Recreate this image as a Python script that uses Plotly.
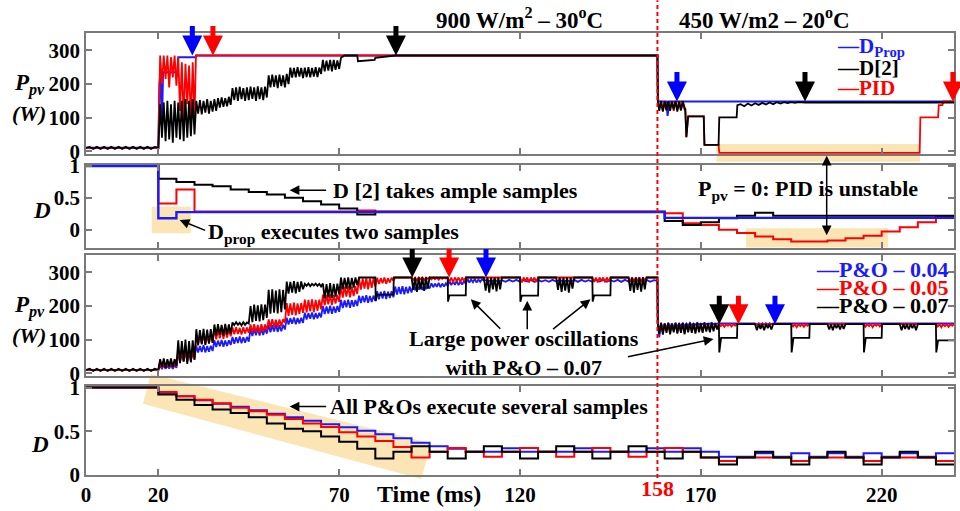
import plotly.graph_objects as go

# ======================= DATA =======================
X_TICKS = [0, 20, 70, 120, 170, 220]
Y_TICKS_P = [0, 100, 200, 300]
Y_TICKS_D = [0, 0.5, 1]
DISTURBANCE_T = 158

# ---- Panel 1 : PV power, D_Prop / D[2] / PID ----
P1_START_RIPPLE = [10, 13, 7, 13, 7, 13, 7, 13, 7, 13, 7, 13, 7, 13, 7, 13, 7, 13, 7, 13, 10]      # t=0..20, 1 ms
P1_BLACK_OSC_A = [140, 40, 145, 30, 150, 35, 140, 25, 150, 40, 145, 35, 150, 30, 155, 40, 150, 45, 155, 50,
                  150, 112, 152, 110, 150, 115, 155, 112, 150, 118, 155, 120,
                  158, 130, 160, 132, 158, 134, 162, 138,
                  188, 152, 190, 150, 192, 155, 188, 150, 190, 152, 192, 156, 190, 150, 193, 155, 190, 152, 192, 160,
                  226, 190, 228, 192, 226, 188, 228, 194, 226, 190, 230, 200,
                  249, 219, 248, 220, 250, 222, 248, 218, 249, 221, 250, 220, 248, 222, 250, 221, 249, 230,
                  272, 238, 270, 240, 272, 238, 272, 242, 270, 245, 278]                            # t=20.5..70.5
P1_BLACK_STEPS = [(71.5, 285), (75, 285), (75.2, 268), (77.5, 270), (79.8, 272), (80, 278), (83, 281),
                  (85.5, 285), (158, 285), (158.1, 150)]
P1_BLACK_OSC_B = [120, 150, 118, 148, 122, 150, 120, 148, 125, 150, 118, 148, 122, 150, 125]          # t=158.5..165.5
P1_BLACK_DIPS = [(165.7, 125), (166, 42), (166.5, 104), (170.8, 104), (171, 19), (174.9, 19),
                 (175.1, 101), (179.9, 101), (180.1, 137)]
P1_BLACK_RIPPLE_B = [140, 134, 142, 136, 143, 138, 144, 139, 145, 140, 146, 142, 146, 143, 146, 144, 146, 145]  # t=181..198
P1_BLACK_END = [(198.8, 145), (240, 145)]

P1_RED_START = [(0, 10), (20, 10)]
P1_RED_OSC_A = [285, 200, 285, 215, 285, 190, 280, 220, 285, 195, 280, 120, 265, 90, 260, 140, 255, 80, 265, 100]  # t=20.5..30
P1_RED_STEPS = [(30.4, 285), (158, 285), (158.1, 150)]
P1_RED_OSC_B = [125, 148, 120, 150, 122, 148, 126, 150, 120, 148, 124, 150, 122, 148, 125]            # t=158.5..165.5
P1_RED_TAIL = [(165.7, 125), (166, 42), (166.5, 104), (170.8, 104), (171, 19), (174.9, 19), (175.1, -5),
               (230.5, -5), (230.7, 101), (235.6, 101), (235.8, 137), (236.8, 137), (237, 148), (240, 148)]

P1_BLUE = [(0, 10), (20, 10), (20.3, 200), (20.6, 235), (21.0, 80), (21.3, 235), (25.3, 235), (25.5, 280),
           (30.3, 280), (30.5, 285), (158, 285), (158.2, 148), (160.5, 148), (160.8, 105), (161.3, 148), (240, 148)]

# ---- Panel 2 : duty cycle, D_Prop / D[2] / PID ----
P2_BLACK_T = [0, 20, 25, 30, 35, 40, 45, 50, 55, 60, 65, 70, 75, 80, 160, 165, 170, 175, 180, 185, 190, 240]
P2_BLACK_D = [1, 0.80, 0.75, 0.708, 0.682, 0.63, 0.594, 0.552, 0.50, 0.448, 0.396, 0.334, 0.24, 0.282,
              0.136, 0.074, 0.115, 0.178, 0.22, 0.267, 0.22, 0.22]
P2_RED_T = [0, 20, 25, 30, 75, 80, 160, 165, 170, 175, 180, 185, 190, 195, 200, 205, 210, 215, 220, 225, 230, 235, 240]
P2_RED_D = [1, 0.412, 0.63, 0.285, 0.30, 0.285, 0.256, 0.10, 0.074, -0.003, -0.055, -0.107, -0.15, -0.186,
            -0.186, -0.17, -0.134, -0.098, -0.03, 0.037, 0.115, 0.204, 0.204]
P2_BLUE_T = [0, 20, 25, 160, 240]
P2_BLUE_D = [1, 0.178, 0.275, 0.185, 0.185]

# ---- Panel 3 : PV power, P&O 0.04 / 0.05 / 0.07 ----
P3_START_RIPPLE = [10, 13, 7, 13, 7, 13, 7, 13, 7, 13, 7, 13, 7, 13, 7, 13, 7, 13, 7, 13, 10]      # t=0..20
P3_BLACK_OSC_A = [42, 18, 44, 16, 42, 20, 44, 18, 42, 22,
                  98, 30, 96, 34, 100, 28, 96, 32, 98, 40,
                  131, 83, 128, 86, 132, 84, 130, 88, 131, 90,
                  145, 113, 146, 115, 144, 112, 147, 116, 145, 118,
                  151, 143, 152, 144, 150, 142, 152, 144, 151, 148,
                  200, 152, 204, 156, 202, 154, 205, 158, 204, 165,
                  248, 177, 250, 180, 246, 178, 250, 182, 248, 190,
                  273, 237, 272, 240, 274, 238, 272, 242, 273, 250,
                  266, 260, 267, 259, 266, 261, 267, 260, 266, 258,
                  267, 223, 265, 226, 268, 224, 266, 228, 267, 235,
                  285, 250, 284, 252, 285, 250, 284, 255, 285, 262]                                # t=20.5..75
P3_BLACK_MID = [(75.5, 285), (80, 285), (80.1, 215), (80.5, 234), (85, 234), (85.1, 285), (90, 285)]
P3_BLACK_COMB1 = [248, 285, 242, 285, 250, 285, 245, 285, 252, 285]   # t=90.5..95
P3_BLACK_DIP1 = [(100, 285), (100.1, 213), (100.5, 232), (105, 232), (105.1, 285), (110, 285)]
P3_BLACK_COMB2 = [246, 285, 240, 285, 250, 285, 244, 285, 250, 285]   # t=110.5..115
P3_BLACK_DIP2 = [(120, 285), (120.1, 213), (120.5, 231), (125, 231), (125.1, 285), (130, 285)]
P3_BLACK_COMB3 = [248, 285, 242, 285, 246, 285, 240, 285, 252, 285]   # t=130.5..135
P3_BLACK_DIP3 = [(140, 285), (140.1, 213), (140.5, 232), (145, 232), (145.1, 285), (150, 285)]
P3_BLACK_COMB4 = [245, 285, 240, 285, 248, 285, 243, 285, 250, 285]   # t=150.5..155
P3_BLACK_DROP = [(158, 285), (158.1, 150)]
P3_BLACK_OSC_B = [118, 150, 115, 148, 120, 150, 116, 148, 122, 150, 118, 148, 120, 150, 116, 148, 122,
                  150, 120, 148, 118, 150, 122, 148, 120, 150, 124, 148, 122, 150, 125, 148, 130, 146]  # t=158.5..175
P3_BLACK_DIP4 = [(175.1, 62), (175.6, 105), (180, 105), (180.1, 146), (185, 146)]
P3_BLACK_COMB5 = [128, 146, 132, 146, 128, 146, 134, 146, 130, 146]   # t=185.5..190
P3_BLACK_DIP5 = [(195, 146), (195.1, 62), (195.6, 105), (200, 105), (200.1, 146), (205, 146)]
P3_BLACK_COMB6 = [130, 146, 128, 146, 134, 146, 130, 146, 132, 146]   # t=205.5..210
P3_BLACK_DIP6 = [(215, 146), (215.1, 62), (215.6, 105), (220, 105), (220.1, 146), (225, 146)]
P3_BLACK_COMB7 = [128, 146, 132, 146, 130, 146, 134, 146, 128, 146]   # t=225.5..230
P3_BLACK_DIP7 = [(235, 146), (235.1, 62), (235.6, 98), (240, 98)]

P3_RED_START = [(0, 10), (20, 10)]
P3_RED_OSC_A = [35, 15, 36, 16, 34, 18, 36, 17, 35, 20,
                72, 32, 70, 35, 74, 33, 70, 36, 72, 40,
                113, 87, 112, 88, 114, 86, 112, 90, 113, 92,
                131, 101, 130, 104, 132, 102, 130, 106, 131, 110,
                136, 116, 137, 117, 135, 115, 137, 118, 136, 120,
                145, 121, 146, 122, 144, 120, 146, 124, 145, 128,
                160, 136, 161, 138, 159, 137, 160, 140, 161, 150,
                209, 171, 208, 174, 210, 172, 208, 176, 209, 180,
                219, 181, 218, 184, 220, 182, 218, 186, 219, 190,
                234, 202, 233, 205, 235, 203, 233, 207, 234, 212,
                259, 225, 258, 228, 260, 226, 258, 230, 259, 236,
                283, 249, 282, 252, 284, 250, 282, 254, 283, 258,
                284, 266, 283, 268, 285, 266, 283, 270, 284, 275]                                  # t=20.5..85
P3_RED_FLAT1 = [(85.5, 285), (90, 285)]
P3_RED_RIP1 = [278, 285, 276, 285, 280, 285, 277, 285, 281, 285, 279, 285, 280, 285, 278, 285, 281, 285, 282, 285]  # 90.5..100
P3_RED_RIP2 = [272, 285, 270, 285, 274, 285, 271, 285, 275, 285]   # 100.5..105
P3_RED_FLAT2 = [(120, 285)]
P3_RED_RIP3 = [270, 285, 273, 285, 270, 285, 274, 285, 272, 285]   # 120.5..125
P3_RED_FLAT3 = [(140, 285)]
P3_RED_RIP4 = [272, 285, 270, 285, 274, 285, 271, 285, 273, 285]   # 140.5..145
P3_RED_FLAT4 = [(150, 285)]
P3_RED_RIP5 = [274, 285, 272, 285, 275, 285, 273, 285, 276, 285]   # 150.5..155
P3_RED_DROP = [(158, 285), (158.1, 148)]
P3_RED_OSC_B = [122, 148, 120, 146, 125, 148, 121, 146, 126, 148, 122, 146, 124, 148, 120, 146, 126,
                148, 124, 146, 122, 148, 126, 146, 124, 148, 128, 146, 126, 148, 130, 146, 135, 146]    # 158.5..175
P3_RED_RIP6 = [140, 146, 138, 146, 141, 146, 139, 146, 142, 146]   # 175.5..180
P3_RED_FLAT5 = [(195, 146)]
P3_RED_RIP7 = [139, 146, 137, 146, 140, 146, 138, 146, 141, 146]   # 195.5..200
P3_RED_FLAT6 = [(215, 146)]
P3_RED_RIP8 = [138, 146, 140, 146, 137, 146, 141, 146, 139, 146]   # 215.5..220
P3_RED_FLAT7 = [(235, 146)]
P3_RED_RIP9 = [139, 146, 137, 146, 140, 146, 138, 146, 141, 146]   # 235.5..240

P3_BLUE_START = [(0, 10), (20, 10)]
P3_BLUE_OSC_A = [24, 12, 25, 13, 23, 14, 25, 13, 24, 16,
                 60, 36, 58, 38, 62, 37, 58, 40, 60, 44,
                 82, 62, 81, 63, 83, 62, 81, 64, 82, 66,
                 98, 78, 97, 80, 99, 79, 97, 81, 98, 84,
                 108, 88, 107, 90, 109, 89, 107, 91, 108, 94,
                 133, 111, 132, 113, 134, 112, 132, 114, 133, 118,
                 144, 122, 143, 124, 145, 123, 143, 125, 144, 130,
                 165, 145, 164, 147, 166, 146, 164, 148, 165, 150,
                 180, 160, 179, 162, 181, 161, 179, 163, 180, 166,
                 200, 176, 199, 178, 201, 177, 199, 180, 200, 183,
                 218, 194, 217, 196, 219, 195, 217, 198, 218, 200,
                 231, 209, 230, 211, 232, 210, 230, 212, 231, 215,
                 244, 220, 243, 222, 245, 221, 243, 224, 244, 226,
                 258, 234, 257, 236, 259, 235, 257, 238, 258, 240,
                 263, 247, 262, 249, 264, 248, 262, 250, 263, 252,
                 268, 256, 267, 257, 269, 256, 267, 258, 268, 260,
                 274, 262, 273, 263, 275, 262, 273, 264, 274, 266,
                 280, 270, 279, 271, 281, 270, 279, 272, 280, 276]                                 # t=20.5..110
P3_BLUE_RIPPLE = [278, 272, 278, 273, 277, 272, 278, 273, 278, 272, 277, 273, 278, 272, 278, 273,
                  277, 272, 278, 273, 278, 272, 277, 273, 278, 272, 278, 273, 277, 272, 278, 273,
                  278, 272, 277, 273, 278, 272, 278, 273, 277, 272, 278, 273, 278, 272, 277]       # t=111..157
P3_BLUE_DROP = [(158, 275), (158.1, 148)]
P3_BLUE_OSC_B = [107, 150, 128, 148, 132, 150, 135, 148, 136, 150, 138, 148, 140, 150, 140, 148, 142,
                 150, 143, 148, 144, 150, 145, 148, 146, 150, 146, 148, 147, 150, 146, 148, 147, 150]   # 158.5..175
P3_BLUE_FLAT = [(175.5, 148), (185, 148)]
P3_BLUE_RIP = [144, 149, 143, 149, 145, 149, 144, 149, 146, 148]   # 185.5..190
P3_BLUE_END = [(240, 148)]

# ---- Panel 4 : duty cycle of the P&O algorithms (5 ms sampling) ----
P4_T = [0, 20, 25, 30, 35, 40, 45, 50, 55, 60, 65, 70, 75, 80, 85, 90, 95, 100, 105, 110, 115, 120, 125,
        130, 135, 140, 145, 150, 155, 160, 165, 170, 175, 180, 185, 190, 195, 200, 205, 210, 215, 220,
        225, 230, 235, 240]
P4_BLUE = [1, 0.94, 0.90, 0.855, 0.815, 0.78, 0.74, 0.70, 0.66, 0.62, 0.58, 0.545, 0.505, 0.465, 0.42, 0.37,
           0.33, 0.30, 0.265, 0.265, 0.305, 0.265, 0.265, 0.265, 0.305, 0.265, 0.265, 0.265, 0.305, 0.265,
           0.305, 0.265, 0.21, 0.21, 0.25, 0.21, 0.25, 0.21, 0.25, 0.21, 0.25, 0.21, 0.25, 0.21, 0.25, 0.25]
P4_RED = [1, 0.95, 0.90, 0.86, 0.82, 0.77, 0.73, 0.69, 0.64, 0.59, 0.55, 0.49, 0.44, 0.39, 0.32, 0.20,
          0.265, 0.31, 0.265, 0.21, 0.265, 0.31, 0.265, 0.21, 0.265, 0.31, 0.265, 0.21, 0.265, 0.31, 0.265,
          0.20, 0.16, 0.20, 0.20, 0.20, 0.16, 0.20, 0.20, 0.20, 0.16, 0.20, 0.20, 0.20, 0.16, 0.16]
P4_BLACK = [1, 0.92, 0.86, 0.80, 0.75, 0.71, 0.66, 0.59, 0.53, 0.50, 0.44, 0.38, 0.30, 0.19, 0.265, 0.33,
            0.265, 0.19, 0.265, 0.33, 0.265, 0.19, 0.265, 0.33, 0.265, 0.19, 0.265, 0.33, 0.265, 0.19, 0.265,
            0.20, 0.12, 0.20, 0.265, 0.20, 0.12, 0.20, 0.265, 0.20, 0.12, 0.20, 0.265, 0.20, 0.12, 0.12]

# ---- markers (arrow tips) ----
ARROWS_P1 = [(29.4, 285, 'blue'), (35.1, 285, 'red'), (85.7, 285, 'black'),
             (163.4, 148, 'blue'), (198.8, 148, 'black'), (239.7, 148, 'red')]
ARROWS_P3 = [(90.2, 285, 'black'), (100.4, 285, 'red'), (110.6, 285, 'blue'),
             (175.1, 146, 'black'), (180.4, 146, 'red'), (190.5, 146, 'blue')]

# ======================= helpers =======================
BLUE, RED, BLACK = '#1a1aff', '#ff0000', '#000000'
FONT = 'Liberation Serif'


def samples(t0, dt, vals):
    return {'t0': t0, 'dt': dt, 'v': vals}


def build(*pieces):
    t, v = [], []
    for p in pieces:
        if isinstance(p, dict):
            for i, val in enumerate(p['v']):
                t.append(p['t0'] + i * p['dt'])
                v.append(val)
        else:
            for a, b in p:
                t.append(a)
                v.append(b)
    return t, v


# margins / pixel helpers for layout-only items (text, bands)
ML, MR, MT, MB = 86, 4, 33, 32
W, H = 960, 511
PW, PH = W - ML - MR, H - MT - MB


def pxx(x):
    return (x - ML) / PW


def pxy(y):
    return 1 - (y - MT) / PH


fig = go.Figure()


def line(t, v, color, ax, width=2, shape='linear'):
    fig.add_trace(go.Scatter(x=t, y=v, mode='lines', line=dict(color=color, width=width, shape=shape),
                             xaxis=ax[0], yaxis=ax[1], showlegend=False, hoverinfo='skip'))


A1, A2, A3, A4 = ('x', 'y'), ('x2', 'y2'), ('x3', 'y3'), ('x4', 'y4')

# panel 1
line(*build(P1_BLUE), BLUE, A1)
line(*build(P1_RED_START, samples(20.5, 0.5, P1_RED_OSC_A), P1_RED_STEPS,
            samples(158.5, 0.5, P1_RED_OSC_B), P1_RED_TAIL), RED, A1, 1.8)
line(*build(samples(0, 1, P1_START_RIPPLE), samples(20.5, 0.5, P1_BLACK_OSC_A), P1_BLACK_STEPS,
            samples(158.5, 0.5, P1_BLACK_OSC_B), P1_BLACK_DIPS, samples(181, 1, P1_BLACK_RIPPLE_B),
            P1_BLACK_END), BLACK, A1, 1.8)

# panel 2
line(P2_RED_T, P2_RED_D, RED, A2, 2, 'hv')
line(P2_BLACK_T, P2_BLACK_D, BLACK, A2, 2, 'hv')
line(P2_BLUE_T, P2_BLUE_D, BLUE, A2, 2.4, 'hv')

# panel 3
line(*build(P3_BLUE_START, samples(20.5, 0.5, P3_BLUE_OSC_A), samples(111, 1, P3_BLUE_RIPPLE), P3_BLUE_DROP,
            samples(158.5, 0.5, P3_BLUE_OSC_B), P3_BLUE_FLAT, samples(185.5, 0.5, P3_BLUE_RIP), P3_BLUE_END),
     BLUE, A3, 1.8)
line(*build(P3_RED_START, samples(20.5, 0.5, P3_RED_OSC_A), P3_RED_FLAT1, samples(90.5, 0.5, P3_RED_RIP1),
            samples(100.5, 0.5, P3_RED_RIP2), P3_RED_FLAT2, samples(120.5, 0.5, P3_RED_RIP3), P3_RED_FLAT3,
            samples(140.5, 0.5, P3_RED_RIP4), P3_RED_FLAT4, samples(150.5, 0.5, P3_RED_RIP5), P3_RED_DROP,
            samples(158.5, 0.5, P3_RED_OSC_B), samples(175.5, 0.5, P3_RED_RIP6), P3_RED_FLAT5,
            samples(195.5, 0.5, P3_RED_RIP7), P3_RED_FLAT6, samples(215.5, 0.5, P3_RED_RIP8), P3_RED_FLAT7,
            samples(235.5, 0.5, P3_RED_RIP9)), RED, A3, 1.8)
line(*build(samples(0, 1, P3_START_RIPPLE), samples(20.5, 0.5, P3_BLACK_OSC_A), P3_BLACK_MID,
            samples(90.5, 0.5, P3_BLACK_COMB1), P3_BLACK_DIP1, samples(110.5, 0.5, P3_BLACK_COMB2), P3_BLACK_DIP2,
            samples(130.5, 0.5, P3_BLACK_COMB3), P3_BLACK_DIP3, samples(150.5, 0.5, P3_BLACK_COMB4), P3_BLACK_DROP,
            samples(158.5, 0.5, P3_BLACK_OSC_B), P3_BLACK_DIP4, samples(185.5, 0.5, P3_BLACK_COMB5), P3_BLACK_DIP5,
            samples(205.5, 0.5, P3_BLACK_COMB6), P3_BLACK_DIP6, samples(225.5, 0.5, P3_BLACK_COMB7), P3_BLACK_DIP7),
     BLACK, A3, 1.8)

# panel 4
line(P4_T, P4_BLUE, BLUE, A4, 2, 'hv')
line(P4_T, P4_RED, RED, A4, 2, 'hv')
line(P4_T, P4_BLACK, BLACK, A4, 2, 'hv')

# ======================= axes =======================
tickfont = dict(family=FONT, size=21, color='black', weight='bold')
axstyle = dict(showline=True, linecolor='#7a7a7a', linewidth=1.6, mirror='ticks', ticks='inside', ticklen=6,
               tickwidth=1.5, tickcolor='#7a7a7a', showgrid=False, zeroline=False, tickfont=tickfont)

domains = [(pxy(155), pxy(33)), (pxy(250), pxy(166)), (pxy(379), pxy(257)), (pxy(479), pxy(389))]
yranges = [[-8, 352], [-0.29, 1.02], [-8, 352], [0, 1.02]]
ytick_sets = [Y_TICKS_P, Y_TICKS_D, Y_TICKS_P, Y_TICKS_D]

layout = dict(width=W, height=H, margin=dict(l=ML, r=MR, t=MT, b=MB), paper_bgcolor='white',
              plot_bgcolor='white', font=dict(family=FONT, size=22, color='black', weight='bold'),
              showlegend=False)
for i in range(4):
    sx = '' if i == 0 else str(i + 1)
    layout['xaxis' + sx] = dict(axstyle, domain=[0, 1], range=[0, 240], anchor='y' + sx,
                                tickvals=X_TICKS, ticktext=[str(v) for v in X_TICKS],
                                showticklabels=(i == 3))
    layout['yaxis' + sx] = dict(axstyle, domain=list(domains[i]), range=yranges[i], anchor='x' + sx,
                                tickvals=ytick_sets[i], ticktext=[('%g' % v) for v in ytick_sets[i]])
fig.update_layout(**layout)

# ======================= shapes =======================
BAND = 'rgb(251,229,181)'
shapes = [
    dict(type='rect', xref='x', yref='paper', x0=174.3, x1=230.6, y0=pxy(163), y1=pxy(145),
         fillcolor=BAND, line=dict(width=0), layer='below'),
    dict(type='rect', xref='x2', yref='y2', x0=182.5, x1=221.8, y0=-0.28, y1=0.02,
         fillcolor=BAND, line=dict(width=0), layer='below'),
    dict(type='rect', xref='x2', yref='y2', x0=18.2, x1=29.0, y0=-0.056, y1=0.36,
         fillcolor=BAND, line=dict(width=0), layer='below'),
    dict(type='path', xref='paper', yref='paper',
         path='M %f,%f L %f,%f L %f,%f L %f,%f Z' % (pxx(151), pxy(377), pxx(432), pxy(447),
                                                     pxx(422), pxy(483), pxx(143), pxy(407)),
         fillcolor=BAND, line=dict(width=0), layer='below'),
    dict(type='line', xref='x', yref='paper', x0=DISTURBANCE_T, x1=DISTURBANCE_T, y0=pxy(482), y1=pxy(0),
         line=dict(color='red', width=2, dash='4px,3px')),
]
fig.update_layout(shapes=shapes)

# ======================= annotations =======================
ann = []


def text(x, y, s, xref='paper', yref='paper', size=22, color='black', xanchor='center', italic=False):
    if italic:
        s = '<i>' + s + '</i>'
    ann.append(dict(x=x, y=y, xref=xref, yref=yref, text=s, showarrow=False, xanchor=xanchor,
                    yanchor='middle', font=dict(family=FONT, size=size, color=color, weight='bold')))


def arrow(x, y, ax, ay, xref, yref, color='black', width=1.5, size=1.3, side='end'):
    ann.append(dict(x=x, y=y, xref=xref, yref=yref, ax=ax, ay=ay, axref='pixel', ayref='pixel', text='',
                    showarrow=True, arrowhead=2, arrowsize=size, arrowwidth=width, arrowcolor=color,
                    arrowside=side, standoff=0, startstandoff=0))


# colored markers
for t, v, c in ARROWS_P1:
    arrow(t, v, 0, -31, 'x', 'y', color=c, width=5, size=0.8)
for t, v, c in ARROWS_P3:
    arrow(t, v, 0, -30, 'x3', 'y3', color=c, width=5, size=0.8)

# titles
text(pxx(520), pxy(18), '900 W/m<sup>2</sup> – 30<sup>o</sup>C', size=23)
text(pxx(766), pxy(18), '450 W/m2 – 20<sup>o</sup>C', size=23)

# y-axis titles
text(pxx(29), pxy(85), 'P<sub>pv</sub>', size=23, italic=True)
text(pxx(29), pxy(114), '(W)', size=22, italic=True)
text(pxx(29), pxy(309), 'P<sub>pv</sub>', size=23, italic=True)
text(pxx(29), pxy(338), '(W)', size=22, italic=True)
text(pxx(42), pxy(212), 'D', size=23, italic=True)
text(pxx(40), pxy(448), 'D', size=23, italic=True)

# legends
text(pxx(837), pxy(47), '—D<sub>Prop</sub>', color=BLUE, xanchor='left', size=21)
text(pxx(837), pxy(68), '—D[2]', color=BLACK, xanchor='left', size=21)
text(pxx(837), pxy(88), '—PID', color=RED, xanchor='left', size=21)
text(pxx(816), pxy(272), '—P&amp;O – 0.04', color=BLUE, xanchor='left')
text(pxx(816), pxy(290), '—P&amp;O – 0.05', color=RED, xanchor='left')
text(pxx(816), pxy(308), '—P&amp;O – 0.07', color=BLACK, xanchor='left')

# panel 2 comments
text(102.1, 0.62, 'D [2] takes ample samples', 'x2', 'y2')
arrow(56.3, 0.62, 38, 0, 'x2', 'y2')
text(68.4, -0.06, 'D<sub>prop</sub> executes two samples', 'x2', 'y2')
arrow(25.9, 0.151, 27, 11, 'x2', 'y2')
text(199.7, 0.62, 'P<sub>pv</sub> = 0: PID is unstable', 'x2', 'y2')
arrow(204.8, -0.087, 0, -81, 'x2', 'y2', side='end+start')

# panel 3 comments
text(121.1, 59.9, 'Large power oscillations<br>with P&amp;O – 0.07', 'x3', 'y3')
arrow(106.4, 220, 31, 31, 'x3', 'y3')
arrow(122.0, 216, 0, 30, 'x3', 'y3')
arrow(139.5, 220, -39, 31, 'x3', 'y3')
arrow(173.5, 102, -87, 18, 'x3', 'y3')

# panel 4 comments
text(111.4, 0.782, 'All P&amp;Os execute several samples', 'x4', 'y4')
arrow(56.3, 0.782, 38, 0, 'x4', 'y4')

# x-axis extras
text(DISTURBANCE_T, pxy(493), '158', xref='x4', size=22, color=RED)
text(pxx(430), pxy(498), 'Time (ms)', size=24)

fig.update_layout(annotations=ann)
fig.write_html('out.html')
